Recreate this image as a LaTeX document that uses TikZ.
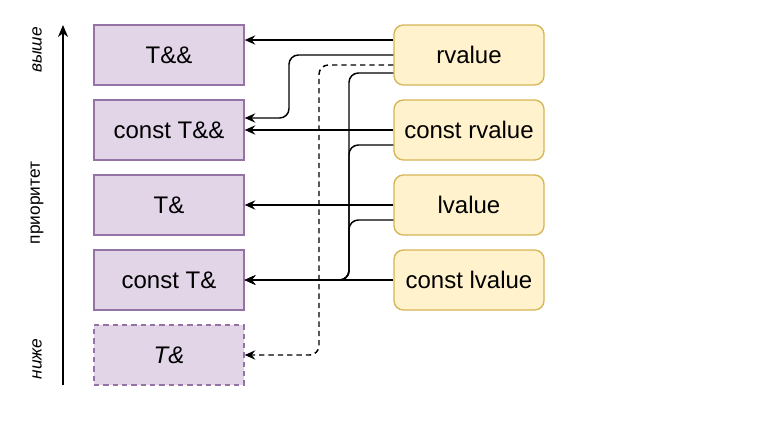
\documentclass[tikz,border=0pt]{standalone}
\usepackage{fontspec}
\setmainfont{Liberation Sans}
\usetikzlibrary{arrows.meta}
\definecolor{pfill}{HTML}{E1D5E7}
\definecolor{pdraw}{HTML}{9673A6}
\definecolor{yfill}{HTML}{FFF2CC}
\definecolor{ydraw}{HTML}{D6B656}
\tikzset{
  tbox/.style={draw=pdraw, fill=pfill, line width=1pt, minimum width=112.5pt, minimum height=45pt, inner sep=0pt, font=\fontsize{18}{21}\selectfont},
  vbox/.style={draw=ydraw, fill=yfill, line width=1pt, rounded corners=7pt, minimum width=112.5pt, minimum height=45pt, inner sep=0pt, font=\fontsize{18}{21}\selectfont},
  conn/.style={line width=1.1pt, -{Stealth[length=8pt, width=7pt, inset=2.8pt]}, rounded corners=7pt},
  sidelbl/.style={font=\fontsize{13}{15}\selectfont, rotate=90}
}
\begin{document}
\begin{tikzpicture}[x=0.75pt, y=-0.75pt]
\useasboundingbox (0,0) rectangle (772,425);
% left boxes
\node[tbox] (t1) at (169,55) {T\&\&};
\node[tbox] (t2) at (169,130) {const T\&\&};
\node[tbox] (t3) at (169,205) {T\&};
\node[tbox] (t4) at (169,280) {const T\&};
\node[tbox, dashed, dash pattern=on 4pt off 3pt] (t5) at (169,355) {\itshape T\&};
% right boxes
\node[vbox] (r1) at (469,55) {rvalue};
\node[vbox] (r2) at (469,130) {const rvalue};
\node[vbox] (r3) at (469,205) {lvalue};
\node[vbox] (r4) at (469,280) {const lvalue};
% axis
\coordinate (a0) at (63,385);
\coordinate (a1) at (63,25);
\draw[line width=1.1pt, -{Stealth[length=9pt, width=7.5pt, inset=2.8pt]}] (a0) -- (a1);
\node[sidelbl, font=\fontsize{13}{15}\selectfont\itshape] (hi) at (37,50) {выше};
\node[sidelbl] (mid) at (37,203) {приоритет};
\node[sidelbl, font=\fontsize{13}{15}\selectfont\itshape] (lo) at (37,359) {ниже};
% connectors
\draw[conn] (r1.west |- 0,40) -- (t1.east |- 0,40);
\draw[conn] (r1.west |- 0,55) -- (289,55) -- (289,118) -- (t2.east |- 0,118);
\draw[conn, dashed, dash pattern=on 4pt off 3pt] (r1.west |- 0,65) -- (319,65) -- (319,355) -- (t5.east |- 0,355);
\draw[conn] (r1.west |- 0,73) -- (349,73) -- (349,280) -- (t4.east);
\draw[conn] (r2.west) -- (t2.east);
\draw[conn] (r2.west |- 0,145) -- (349,145) -- (349,280) -- (t4.east);
\draw[conn] (r3.west) -- (t3.east);
\draw[conn] (r3.west |- 0,220) -- (349,220) -- (349,280) -- (t4.east);
\draw[conn] (r4.west) -- (t4.east);
\end{tikzpicture}
\end{document}
